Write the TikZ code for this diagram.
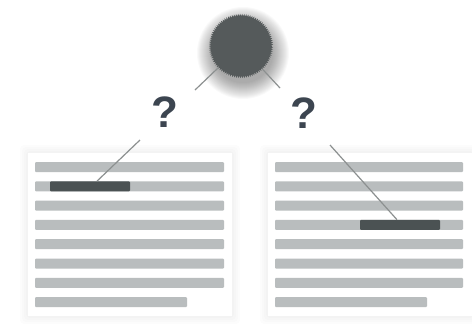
\documentclass[tikz,border=0pt]{standalone}
\usepackage{fontspec}
\newfontfamily\qfont{Liberation Sans}
\usetikzlibrary{decorations.pathmorphing}
\definecolor{barcol}{HTML}{B9BDBE}
\definecolor{markcol}{HTML}{4B5253}
\definecolor{hubcol}{HTML}{555A5B}
\definecolor{linkcol}{HTML}{8C9090}
\definecolor{qcol}{HTML}{3C4550}
\tikzset{
  bar/.style={fill=barcol, rounded corners=1pt},
  hilite/.style={fill=markcol, inner sep=0pt, minimum width=80, minimum height=10, rounded corners=1pt},
  hub/.style={circle, fill=hubcol, inner sep=0pt, minimum size=62, decorate, decoration={zigzag, segment length=2pt, amplitude=1.2pt}},
  ask/.style={text=qcol, inner sep=0pt, font=\qfont\bfseries\fontsize{44}{44}\selectfont},
  link/.style={draw=linkcol, line width=1.2pt},
  glow/.style={fill=black, opacity=0.012, rounded corners=4},
  haze/.style={fill=black, opacity=0.022},
}
\begin{document}
\begin{tikzpicture}[x=1pt,y=-1pt]
  \useasboundingbox (0,0) rectangle (472,330);

  % the two pages
  \foreach \px in {28,268}{
    \foreach \d in {8,6,4,2}
      \fill[glow] ({\px-\d},{153-\d}) rectangle ({\px+204+\d},{316+\d});
    \fill[white] (\px,153) rectangle ({\px+204},316);
  }
  \foreach \i in {0,...,6}{
    \fill[bar] (35,{162+19.3*\i}) rectangle +(189,10);
    \fill[bar] (275,{162+19.3*\i}) rectangle +(188,10);
  }
  \fill[bar] (35,297.1) rectangle +(152,10);
  \fill[bar] (275,297.1) rectangle +(152,10);
  \node[hilite] (hl1) at (90,186.3) {};
  \node[hilite] (hl2) at (400,224.9) {};

  % source with its soft shadow
  \foreach \r in {30,...,46}
    \fill[haze] (243,53) circle (\r);
  \node[hub] (src) at (241,46) {};

  \node[ask] (q1) at (165,112) {?};
  \node[ask] (q2) at (304,113) {?};

  \coordinate (f1) at (195,90);
  \coordinate (f2) at (280,88);
  \coordinate (t1) at (140,140);
  \coordinate (t2) at (330,145);
  \draw[link] (src) -- (f1);
  \draw[link] (src) -- (f2);
  \draw[link] (t1) -- ([xshift=7]hl1.north);
  \draw[link] (t2) -- ([xshift=-3]hl2.north);
\end{tikzpicture}
\end{document}
